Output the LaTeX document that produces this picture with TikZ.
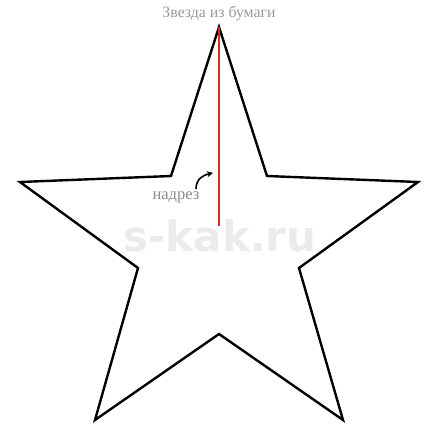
\documentclass[tikz,border=0pt]{standalone}
\usepackage{fontspec}
\setmainfont{Liberation Serif}
\newfontfamily\wmfont{DejaVu Sans}
\usetikzlibrary{arrows.meta}
\definecolor{lbl}{HTML}{8C8C8C}
\definecolor{ttl}{HTML}{9A9A9A}
\definecolor{wm}{HTML}{EBEBEB}
\definecolor{cut}{HTML}{D42A2A}
\tikzset{
  starline/.style={draw=black,line width=2.4pt,line join=miter,fill=white},
  cutline/.style={draw=cut,line width=1.8pt},
  lbltext/.style={text=lbl,inner sep=0pt,font=\fontsize{16.5}{18}\selectfont},
  ttltext/.style={text=ttl,inner sep=0pt,font=\fontsize{15.8}{17}\selectfont},
  wmtext/.style={text=wm,inner sep=0pt,font=\wmfont\bfseries\fontsize{42}{44}\selectfont},
  hint/.style={draw=black,line width=1.6pt,-{Stealth[length=6pt,width=6pt]}}
}
\begin{document}
\begin{tikzpicture}[x=1pt,y=-1pt]
\useasboundingbox (0,0) rectangle (434,434);
\fill[white] (0,0) rectangle (434,434);
\draw[starline] (219,27) -- (267,176) -- (418,182) -- (299,268) -- (343,420)
  -- (219,334) -- (95,420) -- (138,268) -- (20,182) -- (171,176) -- cycle;
\node[wmtext] (wm) at (220,236) {s-kak.ru};
\coordinate (top) at (219,27);
\coordinate (cutend) at (219,226);
\draw[cutline] (top) -- (cutend);
\node[ttltext] (title) at (219,14) {Звезда из бумаги};
\node[lbltext] (nadrez) at (176,197) {надрез};
\coordinate (hs) at (196,189);
\coordinate (he) at (213,173);
\draw[hint] (hs) .. controls (196,179) and (203,175) .. (he);
\end{tikzpicture}
\end{document}
